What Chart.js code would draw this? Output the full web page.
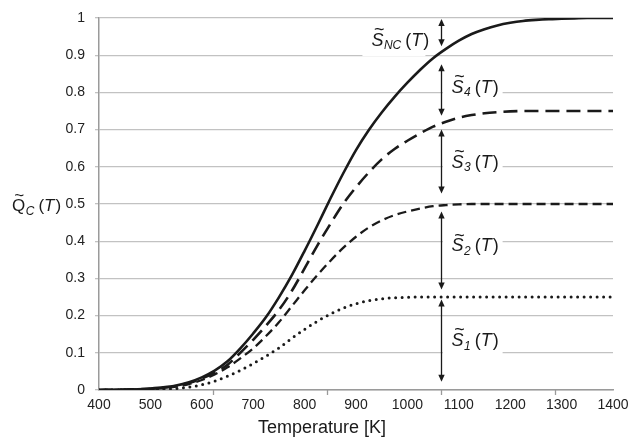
<!DOCTYPE html>
<html><head><meta charset="utf-8">
<script src="https://cdn.jsdelivr.net/npm/chart.js@4.4.1/dist/chart.umd.min.js"></script>
<style>html,body{margin:0;padding:0;background:#fff}#wrap{width:632px;height:437px;position:relative}</style>
</head><body><div id="wrap"><canvas id="c" width="632" height="437"></canvas></div>
<script>
// ---- data ----
const temperatures = [400,425,450,475,500,525,550,575,600,625,650,675,700,725,750,775,800,825,850,875,900,925,950,975,1000,1025,1050,1075,1100,1125,1150,1175,1200,1225,1250,1275,1300,1325,1350,1375,1400];
const qTotal = [0,0.0005,0.001,0.002,0.004,0.007,0.012,0.021,0.034,0.052,0.077,0.112,0.152,0.196,0.249,0.308,0.374,0.443,0.514,0.582,0.645,0.699,0.746,0.788,0.826,0.861,0.892,0.917,0.939,0.957,0.97,0.98,0.987,0.992,0.995,0.997,0.998,0.999,1,1,1];
const q3 = [0,0.0005,0.001,0.002,0.003,0.006,0.011,0.019,0.031,0.047,0.068,0.1,0.135,0.173,0.215,0.266,0.327,0.389,0.446,0.5,0.545,0.585,0.62,0.648,0.67,0.69,0.708,0.721,0.732,0.739,0.744,0.747,0.749,0.75,0.75,0.75,0.75,0.75,0.75,0.75,0.75];
const q2 = [0,0.0005,0.001,0.002,0.003,0.005,0.009,0.016,0.027,0.042,0.061,0.085,0.112,0.145,0.182,0.225,0.268,0.309,0.347,0.382,0.412,0.437,0.456,0.47,0.48,0.488,0.494,0.497,0.499,0.5,0.5,0.5,0.5,0.5,0.5,0.5,0.5,0.5,0.5,0.5,0.5];
const q1 = [0,0,0.0005,0.001,0.0015,0.002,0.004,0.008,0.014,0.024,0.037,0.053,0.071,0.091,0.113,0.139,0.163,0.185,0.204,0.22,0.232,0.24,0.245,0.248,0.249,0.25,0.25,0.25,0.25,0.25,0.25,0.25,0.25,0.25,0.25,0.25,0.25,0.25,0.25,0.25,0.25];
const xTickMarks = [622, 844, 1066, 1288];
// annotations: S labels and their arrows (y ranges in data units)
const labelSubs = ['NC','4','3','2','1'];
const arrowT = 1065;
const arrowLow  = [0.924, 0.737, 0.528, 0.27, 0.022];
const arrowHigh = [0.997, 0.876, 0.70, 0.48, 0.243];
const labelT = [930, 1086, 1086, 1086, 1086];
const labelY = [0.943, 0.817, 0.615, 0.39, 0.135];

const FONT = "'Liberation Sans', Arial, sans-serif";
const INK = '#1a1a1a';

function pts(ys){ return temperatures.map((t,i)=>({x:t,y:ys[i]})); }

// draws S~_sub (T) style label: main letter with tilde, subscript, then (T)
function mathLabel(ctx, x, base, main, sub, size, subSize, mainItalic){
  ctx.save();
  ctx.fillStyle = INK;
  ctx.textBaseline = 'alphabetic';
  ctx.textAlign = 'left';
  ctx.font = (mainItalic?'italic ':'') + size + 'px ' + FONT;
  const wm = ctx.measureText(main).width;
  ctx.fillText(main, x, base);
  // tilde
  ctx.font = Math.round(size*1.0) + 'px ' + FONT;
  const wt = ctx.measureText('~').width;
  ctx.fillText('~', x + (wm - wt)/2 + (mainItalic?1.8:0.5), base - size*0.6);
  let cx = x + wm + 0.5;
  ctx.font = 'italic ' + subSize + 'px ' + FONT;
  ctx.fillText(sub, cx, base + 3.5);
  cx += ctx.measureText(sub).width + 4;
  ctx.font = size + 'px ' + FONT;
  ctx.fillText('(', cx, base); cx += ctx.measureText('(').width;
  ctx.font = 'italic ' + size + 'px ' + FONT;
  ctx.fillText('T', cx, base); cx += ctx.measureText('T').width + 1;
  ctx.font = size + 'px ' + FONT;
  ctx.fillText(')', cx, base); cx += ctx.measureText(')').width;
  ctx.restore();
  return cx;
}

const annotate = {
  id: 'annotate',
  beforeDatasetsDraw(chart){
    const {ctx, scales:{x, y}, chartArea} = chart;
    ctx.save();
    // white boxes behind labels (hide gridlines)
    ctx.fillStyle = '#fff';
    labelSubs.forEach((s,i)=>{
      const lx = x.getPixelForValue(labelT[i]);
      const ly = y.getPixelForValue(labelY[i]);
      const left = i===0 ? lx - 9 : x.getPixelForValue(arrowT) + 2;
      const right = i===0 ? lx + 54 : lx + 51;
      ctx.fillRect(left, ly - 16, right - left, 33);
    });
    // x tick marks
    ctx.strokeStyle = '#9a9a9a'; ctx.lineWidth = 1.3;
    xTickMarks.forEach(v=>{
      const px = Math.round(x.getPixelForValue(v)) + 0.5;
      ctx.beginPath(); ctx.moveTo(px, chartArea.bottom); ctx.lineTo(px, chartArea.bottom + 5); ctx.stroke();
    });
    ctx.restore();
  },
  afterDatasetsDraw(chart){
    const {ctx, scales:{x, y}} = chart;
    ctx.save();
    // arrows
    const ax = Math.round(x.getPixelForValue(arrowT)) + 0.5;
    ctx.strokeStyle = INK; ctx.fillStyle = INK; ctx.lineWidth = 1.3;
    arrowLow.forEach((lo,i)=>{
      const yTop = y.getPixelForValue(arrowHigh[i]);
      const yBot = y.getPixelForValue(lo);
      ctx.beginPath(); ctx.moveTo(ax, yTop + 5); ctx.lineTo(ax, yBot - 5); ctx.stroke();
      ctx.beginPath(); ctx.moveTo(ax, yTop); ctx.lineTo(ax - 3.2, yTop + 7); ctx.lineTo(ax + 3.2, yTop + 7); ctx.closePath(); ctx.fill();
      ctx.beginPath(); ctx.moveTo(ax, yBot); ctx.lineTo(ax - 3.2, yBot - 7); ctx.lineTo(ax + 3.2, yBot - 7); ctx.closePath(); ctx.fill();
    });
    // labels
    labelSubs.forEach((s,i)=>{
      const lx = x.getPixelForValue(labelT[i]);
      const ly = y.getPixelForValue(labelY[i]);
      mathLabel(ctx, lx, ly + 6.5, 'S', s, 18, 12, true);
    });
    ctx.restore();
  },
  afterDraw(chart){
    const {ctx, chartArea, scales:{y}} = chart;
    ctx.save();
    // y axis title
    mathLabel(ctx, 12, y.getPixelForValue(0.5) + 7, 'Q', 'C', 17, 12, false);
    // x axis title
    ctx.fillStyle = INK;
    ctx.font = '18px ' + FONT;
    ctx.textAlign = 'center'; ctx.textBaseline = 'alphabetic';
    ctx.fillText('Temperature [K]', 322, 433);
    ctx.restore();
  }
};

new Chart(document.getElementById('c'), {
  type: 'line',
  data: {
    datasets: [
      {label:'S1', data: pts(q1), borderColor: INK, borderWidth: 3, borderDash:[0,6.5], borderCapStyle:'round', pointRadius:0, cubicInterpolationMode:'monotone', fill:false},
      {label:'S2', data: pts(q2), borderColor: INK, borderWidth: 2.3, borderDash:[9,5], pointRadius:0, cubicInterpolationMode:'monotone', fill:false},
      {label:'S3', data: pts(q3), borderColor: INK, borderWidth: 2.6, borderDash:[14,7], pointRadius:0, cubicInterpolationMode:'monotone', fill:false},
      {label:'NC', data: pts(qTotal), borderColor: INK, borderWidth: 2.6, pointRadius:0, cubicInterpolationMode:'monotone', fill:false}
    ]
  },
  options: {
    responsive:false, animation:false, devicePixelRatio:1,
    layout:{padding:{top:18,right:0,bottom:0,left:0}},
    plugins:{legend:{display:false}, tooltip:{enabled:false}},
    scales:{
      x:{type:'linear', min:400, max:1400,
        ticks:{stepSize:100, font:{family:FONT, size:14}, color:'#222', padding:7, maxRotation:0, autoSkip:false,
               callback:(v)=>String(v)},
        grid:{display:false, drawTicks:false},
        border:{display:true, color:'#9a9a9a', width:1.5},
        afterFit:(s)=>{ s.height = 47; s.paddingRight = 19; s.paddingLeft = 0; }
      },
      y:{type:'linear', min:0, max:1,
        ticks:{stepSize:0.1, font:{family:FONT, size:14}, color:'#222', padding:10,
               callback:(v)=>String(Math.round(v*10)/10)},
        grid:{color:'#c2c2c2', lineWidth:1.3, tickLength:4, drawTicks:true},
        border:{color:'#9a9a9a', width:1.5},
        afterFit:(s)=>{ s.width = 99; s.paddingTop = 0; s.paddingBottom = 0; }
      }
    }
  },
  plugins:[annotate]
});
</script></body></html>
